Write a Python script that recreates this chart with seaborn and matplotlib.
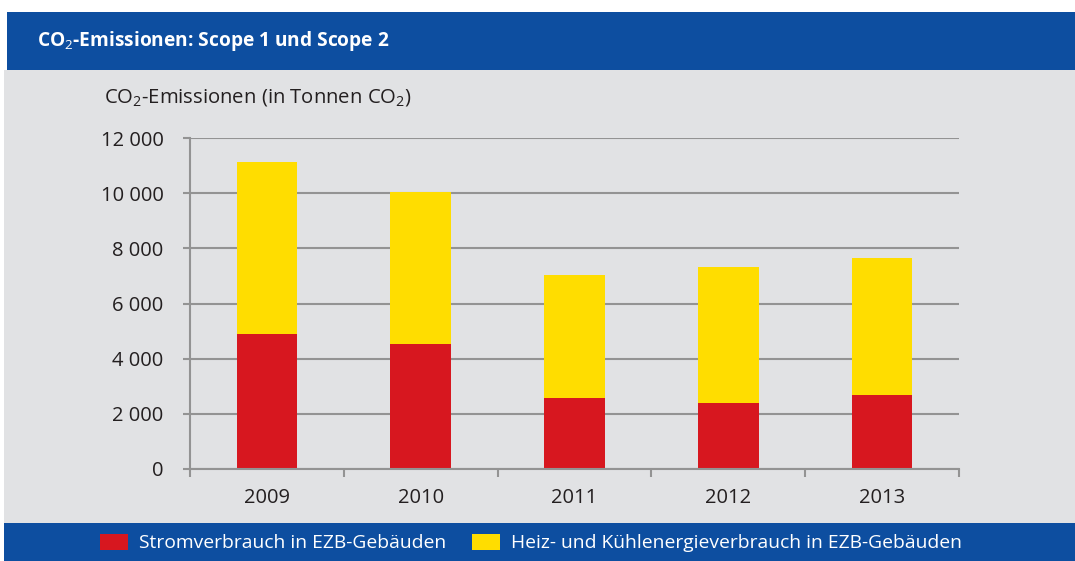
import matplotlib
matplotlib.use("Agg")
import matplotlib.pyplot as plt
from matplotlib.patches import Rectangle, Patch
import seaborn as sns
import pandas as pd

years = ["2009", "2010", "2011", "2012", "2013"]
strom = [4890, 4520, 2570, 2390, 2670]
heiz = [6230, 5530, 4460, 4940, 4980]
yticks = [0, 2000, 4000, 6000, 8000, 10000, 12000]
ytick_labels = ["0", "2 000", "4 000", "6 000", "8 000", "10 000", "12 000"]
series_names = ["Stromverbrauch in EZB-Gebäuden", "Heiz- und Kühlenergieverbrauch in EZB-Gebäuden"]
title = "CO$_2$-Emissionen: Scope 1 und Scope 2"
ylabel = "CO$_2$-Emissionen (in Tonnen CO$_2$)"

RED = "#D7171F"
YELLOW = "#FFDD00"
BLUE = "#0D4EA0"
BG = "#E1E2E4"
GRID = "#939393"
TEXT = "#231F20"

sns.set_theme(style="white")
plt.rcParams["font.family"] = ["Open Sans", "DejaVu Sans"]
plt.rcParams["mathtext.fontset"] = "custom"
plt.rcParams["mathtext.rm"] = "Open Sans"
plt.rcParams["mathtext.bf"] = "Open Sans:bold"

df = pd.DataFrame({"year": years, "strom": strom, "heiz": heiz})
df["total"] = df["strom"] + df["heiz"]

W, H = 1075, 561
fig = plt.figure(figsize=(W / 100, H / 100), dpi=100)
fig.patch.set_facecolor("white")

# background panels
fig.patches.append(Rectangle((7 / W, (H - 70) / H), 1, 58 / H, transform=fig.transFigure,
                             facecolor=BLUE, edgecolor="none", zorder=-2))
fig.patches.append(Rectangle((4 / W, 38 / H), 1, 453 / H, transform=fig.transFigure,
                             facecolor=BG, edgecolor="none", zorder=-2))
fig.patches.append(Rectangle((4 / W, 0), 1, 38 / H, transform=fig.transFigure,
                             facecolor=BLUE, edgecolor="none", zorder=-2))

ax = fig.add_axes([190 / W, (H - 469) / H, 769 / W, 331 / H])
ax.set_facecolor("none")

sns.barplot(data=df, x="year", y="total", color=YELLOW, width=0.395, saturation=1,
            ax=ax, zorder=3, linewidth=0)
sns.barplot(data=df, x="year", y="strom", color=RED, width=0.395, saturation=1,
            ax=ax, zorder=4, linewidth=0)

ax.set_xlim(-0.5, len(years) - 0.5)
ax.set_ylim(0, 12000)
ax.set_yticks(yticks)
ax.set_yticklabels(ytick_labels)
ax.set_xlabel("")
ax.set_ylabel("")
ax.grid(axis="y", color=GRID, linewidth=1.5, zorder=1)
ax.set_axisbelow(True)
for s in ["top", "right"]:
    ax.spines[s].set_visible(False)
for s in ["left", "bottom"]:
    ax.spines[s].set_color(GRID)
    ax.spines[s].set_linewidth(1.5)
    ax.spines[s].set_zorder(5)

# x ticks at category boundaries, labels at centers
ax.set_xticks([i for i in range(len(years))])
ax.set_xticklabels(years)
ax.set_xticks([i - 0.5 for i in range(len(years) + 1)], minor=True)
ax.tick_params(axis="x", which="major", length=0, pad=14, labelsize=14.5, labelcolor=TEXT)
ax.tick_params(axis="x", which="minor", length=6, width=1.5, color=GRID, direction="out")
ax.tick_params(axis="y", length=5, width=1.5, color=GRID, direction="out", pad=14,
               labelsize=14.5, labelcolor=TEXT)
ax.tick_params(left=True, bottom=True)
ax.xaxis.set_tick_params(which="minor", bottom=True)

fig.text(37 / W, (H - 41) / H, title, color="white", fontsize=13.8, fontweight="bold",
         va="center", ha="left")
fig.text(104 / W, (H - 98) / H, ylabel, color=TEXT, fontsize=14.6, va="center", ha="left")

handles = [Patch(facecolor=RED, edgecolor="none"), Patch(facecolor=YELLOW, edgecolor="none")]
leg = fig.legend(handles, series_names, loc="center", bbox_to_anchor=(531 / W, 18 / H),
                 ncol=2, frameon=False, fontsize=13.9, handlelength=1.45, handleheight=0.9,
                 handletextpad=0.6, columnspacing=1.3, borderaxespad=0)
for t in leg.get_texts():
    t.set_color("white")

fig.savefig("out.png", dpi=100, facecolor="white")
